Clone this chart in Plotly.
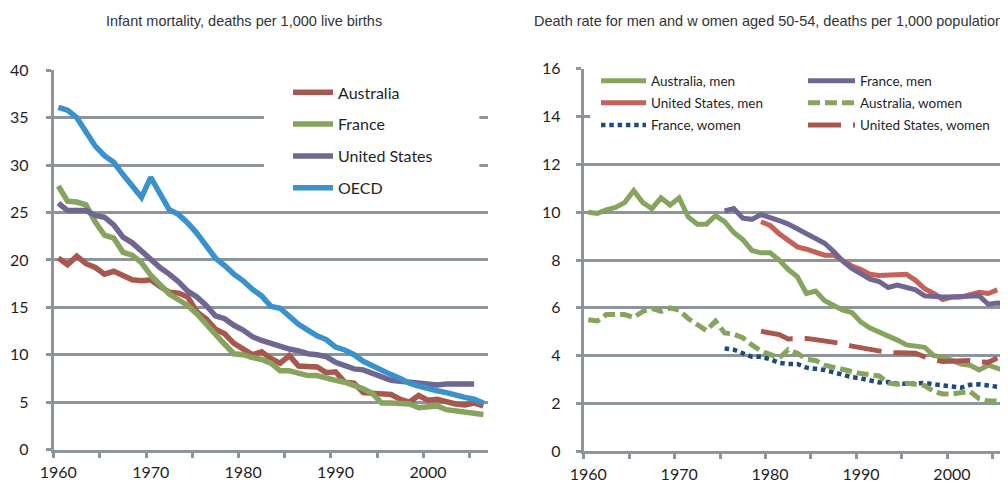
import plotly.graph_objects as go

# ---------------- data ----------------
years_infant = list(range(1960, 2007))          # 1960-2006
years_infant_us = list(range(1960, 2006))       # 1960-2005

aus_infant = [20.2, 19.5, 20.4, 19.6, 19.2, 18.5, 18.8, 18.4, 17.9, 17.8,
              17.9, 17.2, 16.6, 16.5, 16.1, 14.5, 13.8, 12.7, 12.2, 11.2,
              10.6, 10.0, 10.3, 9.6, 9.1, 9.9, 8.8, 8.7, 8.7, 8.1,
              8.2, 7.1, 7.0, 6.0, 5.9, 5.8, 5.8, 5.3, 5.0, 5.7,
              5.2, 5.3, 5.0, 4.8, 4.7, 4.9, 4.6]
fra_infant = [27.8, 26.2, 26.1, 25.8, 24.0, 22.6, 22.3, 20.8, 20.5, 19.7,
              18.4, 17.4, 16.4, 15.8, 15.2, 14.3, 13.2, 12.0, 11.1, 10.1,
              10.0, 9.7, 9.5, 9.1, 8.3, 8.3, 8.0, 7.8, 7.8, 7.5,
              7.3, 7.1, 6.8, 6.4, 5.9, 4.9, 4.9, 4.9, 4.8, 4.4,
              4.5, 4.6, 4.2, 4.1, 3.9, 3.8, 3.7]
usa_infant = [26.0, 25.2, 25.2, 25.2, 24.7, 24.5, 23.7, 22.4, 21.8, 20.9,
              20.0, 19.2, 18.5, 17.7, 16.7, 16.1, 15.2, 14.1, 13.8, 13.1,
              12.6, 11.9, 11.5, 11.2, 10.8, 10.6, 10.4, 10.1, 10.0, 9.8,
              9.2, 8.9, 8.5, 8.4, 8.0, 7.6, 7.3, 7.2, 7.1, 7.0,
              6.9, 6.8, 6.9, 6.9, 6.8, 6.9]
oecd_infant = [36.1, 35.8, 35.0, 33.4, 32.0, 31.0, 30.3, 29.0, 27.7, 26.6,
               28.7, 26.9, 25.3, 24.8, 23.9, 22.8, 21.6, 20.2, 19.4, 18.5,
               17.8, 16.9, 16.2, 15.1, 14.9, 14.0, 13.2, 12.6, 12.0, 11.6,
               10.8, 10.5, 10.0, 9.3, 8.8, 8.3, 7.9, 7.5, 7.0, 6.7,
               6.4, 6.2, 6.0, 5.7, 5.5, 5.3, 4.9]

years_aus_men = list(range(1960, 2007))
aus_men = [10.0, 9.95, 10.1, 10.2, 10.4, 10.9, 10.4, 10.15, 10.6, 10.3,
           10.6, 9.8, 9.5, 9.5, 9.85, 9.6, 9.15, 8.85, 8.4, 8.3,
           8.3, 8.0, 7.6, 7.3, 6.6, 6.7, 6.3, 6.1, 5.9, 5.8,
           5.4, 5.15, 5.0, 4.8, 4.65, 4.45, 4.4, 4.35, 4.0, 3.95,
           3.8, 3.65, 3.6, 3.4, 3.6, 3.5, 3.35]
years_fra_men = list(range(1975, 2007))
fra_men = [10.05, 10.15, 9.75, 9.7, 9.9, 9.8, 9.65, 9.5, 9.3, 9.05,
           8.85, 8.7, 8.35, 7.95, 7.65, 7.4, 7.2, 7.1, 6.85, 6.95,
           6.85, 6.75, 6.5, 6.45, 6.45, 6.45, 6.45, 6.45, 6.5, 6.15,
           6.2, 6.15]
years_us_men = list(range(1979, 2006))
us_men = [9.6, 9.45, 9.1, 8.85, 8.55, 8.45, 8.35, 8.2, 8.2, 7.95,
          7.75, 7.6, 7.4, 7.35, 7.35, 7.38, 7.4, 7.15, 6.8, 6.6,
          6.35, 6.45, 6.45, 6.55, 6.65, 6.6, 6.75]
years_aus_women = list(range(1960, 2006))
aus_women = [5.5, 5.45, 5.72, 5.7, 5.72, 5.6, 5.85, 5.98, 5.85, 6.0,
             5.9, 5.55, 5.3, 5.05, 5.45, 4.95, 4.9, 4.75, 4.45, 4.2,
             4.05, 3.9, 4.25, 4.1, 3.85, 3.8, 3.6, 3.5, 3.4, 3.35,
             3.25, 3.2, 3.15, 2.85, 2.8, 2.85, 2.8, 2.75, 2.5, 2.4,
             2.4, 2.45, 2.5, 2.2, 2.1, 2.1]
years_fra_women = list(range(1975, 2006))
fra_women = [4.3, 4.25, 4.1, 3.95, 3.95, 3.85, 3.7, 3.65, 3.65, 3.5,
             3.45, 3.4, 3.3, 3.2, 3.1, 3.05, 2.95, 2.88, 2.9, 2.83,
             2.82, 2.83, 2.86, 2.8, 2.75, 2.72, 2.66, 2.78, 2.8, 2.75,
             2.7]
years_us_women = list(range(1979, 2006))
us_women = [5.02, 4.93, 4.88, 4.7, 4.72, 4.72, 4.67, 4.62, 4.6, 4.5,
            4.4, 4.33, 4.25, 4.18, 4.13, 4.12, 4.12, 4.1, 3.95, 3.82,
            3.76, 3.76, 3.78, 3.8, 3.74, 3.72, 3.9]

x_label_years = [1960, 1970, 1980, 1990, 2000]
x_label_text = ["1960", "1970", "1980", "1990", "2000"]
x_tick_marks = [1960, 1965, 1970, 1975, 1980, 1985, 1990, 1995, 2000, 2005]
left_title = "Infant mortality, deaths per 1,000 live births"
right_title = "Death rate for men and w omen aged 50-54, deaths per 1,000 population"

# ---------------- style ----------------
GRID = "#8d949b"
TXT = "#1f1f1f"
C_RED = "#a8574f"
C_GREEN = "#86a45e"
C_PURPLE = "#6f6692"
C_BLUE = "#3a92cc"
C_SALMON = "#c4625a"
C_NAVY = "#1f4a7d"
W = 1008
H = 485


def slot(years):
    # category-slot centres (Excel style "between tick marks")
    return [y + 0.5 for y in years]


fig = go.Figure()

# left panel
left_series = [
    ("Australia", years_infant, aus_infant, C_RED),
    ("France", years_infant, fra_infant, C_GREEN),
    ("United States", years_infant_us, usa_infant, C_PURPLE),
    ("OECD", years_infant, oecd_infant, C_BLUE),
]
for name, yrs, vals, col in left_series:
    fig.add_trace(go.Scatter(x=slot(yrs), y=vals, name=name, mode="lines",
                             line=dict(color=col, width=5.5),
                             xaxis="x", yaxis="y", legend="legend",
                             legendgroup=name))

# right panel: two legend columns
right_col1 = [
    ("Australia, men", years_aus_men, aus_men, C_GREEN, "solid", 5),
    ("United States, men", years_us_men, us_men, C_SALMON, "solid", 5),
    ("France, women", years_fra_women, fra_women, C_NAVY, "4.5px,3.8px", 4.5),
]
right_col2 = [
    ("France, men", years_fra_men, fra_men, C_PURPLE, "solid", 5),
    ("Australia, women", years_aus_women, aus_women, C_GREEN, "12px,5px", 5),
    ("United States, women", years_us_women, us_women, C_RED, "33px,12px", 5),
]
for lg, group in (("legend2", right_col1), ("legend3", right_col2)):
    for name, yrs, vals, col, dash, wd in group:
        fig.add_trace(go.Scatter(x=slot(yrs), y=vals, name=name, mode="lines",
                                 line=dict(color=col, width=wd, dash=dash),
                                 xaxis="x2", yaxis="y2", legend=lg,
                                 legendgroup=name))

tick_font = dict(family="Lato, sans-serif", size=16, color=TXT)
title_font = dict(family="Liberation Sans, Arial, sans-serif", size=14.5,
                  color="#333333")
rleg_font = dict(family="Lato, sans-serif", size=13.5, color=TXT)

xcommon = dict(range=[1960, 2007], showgrid=False, zeroline=False,
               showline=True, linecolor=GRID, linewidth=3,
               tickmode="array", tickvals=slot(x_label_years),
               ticktext=x_label_text, ticks="", tickfont=tick_font,
               ticklabelstandoff=6,
               minor=dict(tickmode="array", tickvals=x_tick_marks,
                          ticks="outside", ticklen=5, tickwidth=2.5,
                          tickcolor=GRID, showgrid=False),
               fixedrange=True)
ycommon = dict(showgrid=True, gridcolor=GRID, gridwidth=2.8, zeroline=False,
               showline=True, linecolor=GRID, linewidth=3,
               ticks="outside", ticklen=5, tickwidth=2.5, tickcolor=GRID,
               tickfont=tick_font, fixedrange=True)

fig.update_layout(
    width=W, height=H,
    margin=dict(l=0, r=0, t=0, b=0),
    template="none",
    paper_bgcolor="white", plot_bgcolor="white",
    showlegend=True,
    xaxis=dict(domain=[45.7 / W, 480 / W], anchor="y", **xcommon),
    yaxis=dict(domain=[1 - 441.5 / H, 1 - 62.3 / H], anchor="x",
               range=[0, 40], dtick=5, tick0=0, ticklabelstandoff=14,
               **ycommon),
    xaxis2=dict(domain=[575.7 / W, 1003 / W], anchor="y2", **xcommon),
    yaxis2=dict(domain=[1 - 443.3 / H, 1 - 60.7 / H], anchor="x2",
                range=[0, 16], dtick=2, tick0=0, mirror=True,
                ticklabelstandoff=12, **ycommon),
    legend=dict(x=280 / W, y=1 - 67.4 / H, xanchor="left", yanchor="top",
                bgcolor="white", borderwidth=0, itemwidth=40,
                traceorder="grouped", tracegroupgap=8,
                font=dict(family="Lato, sans-serif", size=16, color=TXT)),
    legend2=dict(x=588 / W, y=1 - 57.5 / H, xanchor="left", yanchor="top",
                 bgcolor="white", borderwidth=0, itemwidth=45,
                 traceorder="grouped", tracegroupgap=1.5, font=rleg_font),
    legend3=dict(x=795 / W, y=1 - 57.5 / H, xanchor="left", yanchor="top",
                 bgcolor="white", borderwidth=0, itemwidth=47,
                 traceorder="grouped", tracegroupgap=1.5, font=rleg_font),
    shapes=[
        # legend background boxes
        dict(type="rect", xref="x domain", yref="y domain",
             x0=0.484, x1=0.98, y0=0.632, y1=0.995,
             fillcolor="white", line=dict(width=0), layer="above"),
        dict(type="rect", xref="x2 domain", yref="y2 domain",
             x0=0.015, x1=0.995, y0=0.756, y1=0.994,
             fillcolor="white", line=dict(width=0), layer="above"),
    ],
    annotations=[
        dict(text=left_title, x=236 / W, y=1 - 13 / H, xref="paper",
             yref="paper", xanchor="center", yanchor="middle",
             showarrow=False, font=title_font),
        dict(text=right_title, x=760 / W, y=1 - 13 / H, xref="paper",
             yref="paper", xanchor="center", yanchor="middle",
             showarrow=False, font=title_font),
    ],
)

fig.write_html("out.html")
